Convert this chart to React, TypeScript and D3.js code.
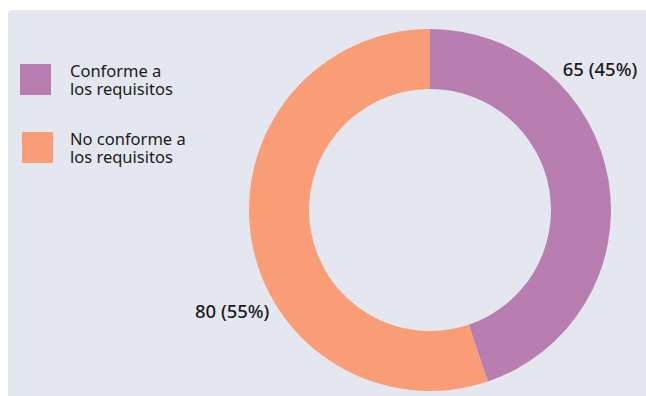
import React from "react";
import * as d3 from "d3";

const categories = ["Conforme a los requisitos", "No conforme a los requisitos"];
const legendLines = [["Conforme a", "los requisitos"], ["No conforme a", "los requisitos"]];
const values = [65, 80];
const percents = ["45%", "55%"];
const colors = ["#b97eb0", "#f99d77"];

const W = 646;
const H = 396;
const cx = 430;
const cy = 210;
const outerR = 181;
const innerR = 121;

export default function App() {
  const pie = d3.pie<number>().sort(null).value((d) => d);
  const arcs = pie(values);
  const arcGen = d3.arc<d3.PieArcDatum<number>>().innerRadius(innerR).outerRadius(outerR);

  // label placement: fraction along each slice and radius
  const labelFrac = [0.271, 0.382];
  const labelR = [192, 191];
  const anchors = ["start", "end"];

  return (
    <svg width={W} height={H} style={{ position: "absolute", left: 0, top: 0 }} fontFamily="'Noto Sans', sans-serif">
      <rect x={0} y={0} width={W} height={H} fill="#ffffff" />
      <path d={`M8,14 a4,4 0 0 1 4,-4 H${W} V${H} H8 Z`} fill="#e4e7ef" />
      <g transform={`translate(${cx},${cy})`}>
        {arcs.map((a, i) => (
          <path key={i} d={arcGen(a) || ""} fill={colors[i]} />
        ))}
        {arcs.map((a, i) => {
          const ang = a.startAngle + (a.endAngle - a.startAngle) * labelFrac[i];
          const x = Math.sin(ang) * labelR[i];
          const y = -Math.cos(ang) * labelR[i];
          return (
            <text key={i} x={x} y={y} textAnchor={anchors[i]} fontSize={18.5} fontWeight={500} fill="#1a1a1a" dominantBaseline="middle">
              {`${values[i]} (${percents[i]})`}
            </text>
          );
        })}
      </g>
      {categories.map((c, i) => (
        <g key={c} transform={`translate(${20 + i * 2},${64 + i * 68})`}>
          <rect width={31} height={31} fill={colors[i]} />
          <text x={50 - i * 2} y={13} fontSize={16.5} fill="#1a1a1a">
            {legendLines[i].map((l, j) => (
              <tspan key={j} x={50 - i * 2} dy={j === 0 ? 0 : 18}>
                {l}
              </tspan>
            ))}
          </text>
        </g>
      ))}
    </svg>
  );
}
